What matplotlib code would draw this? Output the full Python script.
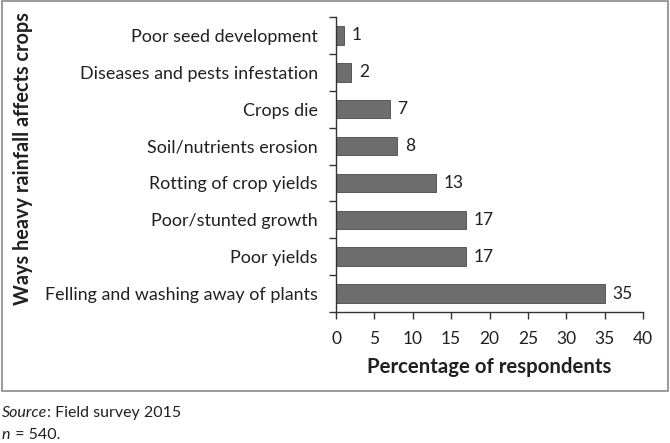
import matplotlib.pyplot as plt
from matplotlib.patches import Rectangle

# Ways heavy rainfall affects crops (survey, n = 540)
categories = ["Felling and washing away of plants", "Poor yields", "Poor/stunted growth",
              "Rotting of crop yields", "Soil/nutrients erosion", "Crops die",
              "Diseases and pests infestation", "Poor seed development"]
percent = [35, 17, 17, 13, 8, 7, 2, 1]
xticks = [0, 5, 10, 15, 20, 25, 30, 35, 40]

plt.rcParams['font.family'] = ['Lato', 'DejaVu Sans']
text_col = '#231f20'

fig = plt.figure(figsize=(6.7, 4.43), dpi=100)
ax = fig.add_axes([0.5015, 0.2957, 0.4582, 0.6659])

pos = list(range(len(categories)))
ax.barh(pos, percent, height=0.5, color='#6d6d6d', edgecolor='#4a4a4a', linewidth=0.6)
for p, v in zip(pos, percent):
    ax.annotate(str(v), xy=(v, p), xytext=(5.5, 0), textcoords='offset points',
                va='center', ha='left', fontsize=12.5, color=text_col)

ax.set_xlim(0, 40)
ax.set_ylim(-0.5, len(categories) - 0.5)
ax.set_xticks(xticks)
ax.set_xticklabels([str(t) for t in xticks], fontsize=12.5, color=text_col)
ax.set_yticks(pos)
ax.set_yticklabels(categories, fontsize=12.9, color=text_col)
ax.set_yticks([p - 0.5 for p in pos] + [len(categories) - 0.5], minor=True)
ax.tick_params(axis='y', which='major', length=0, pad=13)
ax.tick_params(axis='y', which='minor', length=5, width=1, color='#333333')
ax.tick_params(axis='x', length=5, width=1, color='#333333', pad=9)
for s in ['top', 'right']:
    ax.spines[s].set_visible(False)
for s in ['left', 'bottom']:
    ax.spines[s].set_color('#333333')
    ax.spines[s].set_linewidth(1)

ax.set_xlabel("Percentage of respondents", fontsize=14.7, fontweight='bold',
              color=text_col, labelpad=7)
fig.text(0.035, 0.641, "Ways heavy rainfall affects crops", rotation=90, fontsize=14.3,
         fontweight='bold', color=text_col, ha='center', va='center')

# border box around chart
fig.patches.append(Rectangle((0.003, 0.117), 0.994, 0.881, transform=fig.transFigure,
                             fill=False, edgecolor='#8a8a8a', linewidth=1.2))

t1 = fig.text(0.003, 0.059, "Source", style='italic', fontsize=11.5, color=text_col,
              va='baseline')
ax.annotate(": Field survey 2015", xy=(1, 0), xycoords=t1, fontsize=11.5, color=text_col,
            va='bottom', ha='left')
t2 = fig.text(0.003, 0.008, "n", style='italic', fontsize=11.5, color=text_col,
              va='baseline')
ax.annotate(" = 540.", xy=(1, 0), xycoords=t2, fontsize=11.5, color=text_col,
            va='bottom', ha='left')

fig.savefig("out.png", dpi=100)
